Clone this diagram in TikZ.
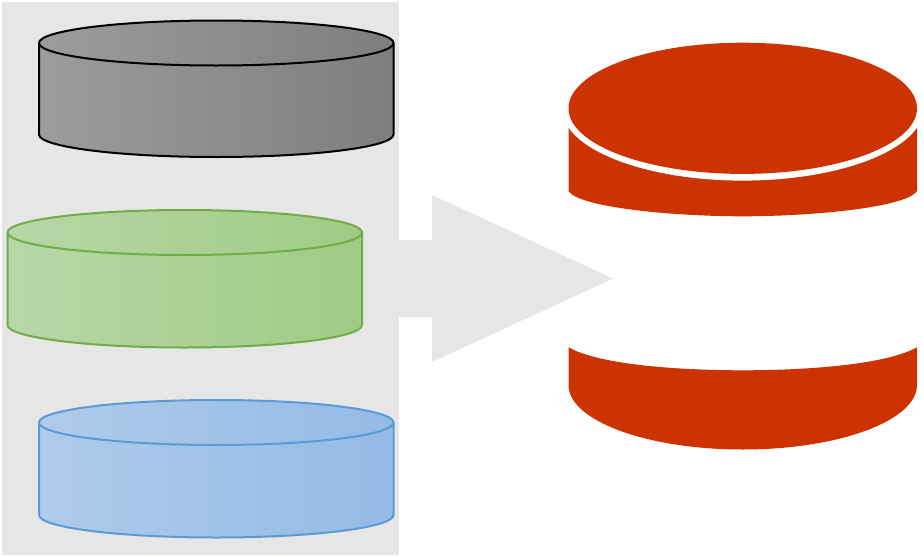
\documentclass[tikz,border=0pt]{standalone}
\definecolor{panelgray}{HTML}{E6E6E6}
\definecolor{diskred}{HTML}{CC3300}
\definecolor{graystart}{HTML}{9C9C9C}
\definecolor{grayend}{HTML}{7E7E7E}
\definecolor{greenline}{HTML}{70AD47}
\definecolor{greenstart}{HTML}{B8D7A8}
\definecolor{greenend}{HTML}{9FCB85}
\definecolor{blueline}{HTML}{5B9BD5}
\definecolor{bluestart}{HTML}{AFCBEA}
\definecolor{blueend}{HTML}{94BAE6}
\tikzset{
  disk/.style={line width=2pt},
  gray disk/.style={disk, draw=black, left color=graystart, right color=grayend},
  green disk/.style={disk, draw=greenline, left color=greenstart, right color=greenend},
  blue disk/.style={disk, draw=blueline, left color=bluestart, right color=blueend},
}
\begin{document}
\begin{tikzpicture}[x=1pt, y=-1pt, line join=round]
  \useasboundingbox (0,0) rectangle (924,557);
  % panel and arrow
  \fill[panelgray] (2,2) rectangle (399,555);
  \fill[panelgray]
    (399,240) -- (432,240) -- (432,195) -- (613,278.5) -- (432,362) -- (432,317) -- (399,317) -- cycle;
  % left disks
  \path[gray disk]
    (39,43) -- (39,134.5) arc[start angle=180, end angle=0, x radius=177.25, y radius=22.5] -- (393.5,43) -- cycle;
  \path[gray disk] (216.25,43) ellipse[x radius=177.25, y radius=22.5];
  \path[green disk]
    (7.5,232.5) -- (7.5,325) arc[start angle=180, end angle=0, x radius=177.25, y radius=22.5] -- (362,232.5) -- cycle;
  \path[green disk] (184.75,232.5) ellipse[x radius=177.25, y radius=22.5];
  \path[blue disk]
    (39,422.5) -- (39,515) arc[start angle=180, end angle=0, x radius=177.25, y radius=22.5] -- (393.5,422.5) -- cycle;
  \path[blue disk] (216.25,422.5) ellipse[x radius=177.25, y radius=22.5];
  % right database
  \fill[diskred]
    (568.5,108) -- (568.5,191) .. controls (578,207) and (670,216.3) .. (742.75,216.3)
    .. controls (815,216.3) and (907,207) .. (917,191) -- (917,108) -- cycle;
  \fill[white] (742.75,108) ellipse[x radius=181, y radius=72.6];
  \fill[diskred] (742.75,108.3) ellipse[x radius=174.25, y radius=65.6];
  \fill[diskred]
    (568.5,347.3) .. controls (600,365) and (680,370.3) .. (742.75,370.3)
    .. controls (805,370.3) and (885,365) .. (917,347.3) -- (917,385)
    arc[start angle=0, end angle=180, x radius=174.25, y radius=64.5] -- cycle;
\end{tikzpicture}
\end{document}
